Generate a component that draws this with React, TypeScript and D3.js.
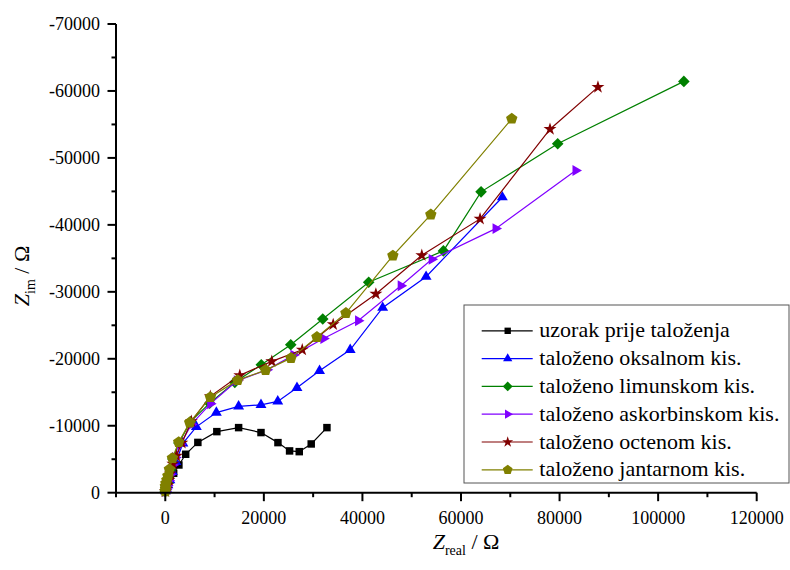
import React from "react";
import * as d3 from "d3";

const seriesNames = [
  "uzorak prije taloženja",
  "taloženo oksalnom kis.",
  "taloženo limunskom kis.",
  "taloženo askorbinskom kis.",
  "taloženo octenom kis.",
  "taloženo jantarnom kis.",
];
const seriesColors = ["#000000", "#0000FF", "#008000", "#8000FF", "#800000", "#808000"];
const seriesMarkers = ["square", "triangle", "diamond", "rightTriangle", "star", "pentagon"];

const uzorakX = [120, 430, 930, 1700, 2760, 4140, 6610, 10460, 14880, 19420, 22860, 25220, 27180, 29610, 32800];
const uzorakY = [-400, -1000, -1900, -2900, -4140, -5740, -7510, -9120, -9720, -8980, -7480, -6240, -6130, -7280, -9720];

const oksalnomX = [20, 220, 530, 930, 1440, 2150, 3570, 6300, 10360, 14880, 19420, 22820, 26720, 31300, 37520, 44110, 52920, 68390];
const oksalnomY = [-250, -630, -1150, -1900, -3100, -4590, -7360, -9830, -11970, -12890, -13120, -13640, -15660, -18200, -21340, -27630, -32260, -44130];

const limunskomX = [0, 20, 220, 430, 730, 1030, 1540, 2760, 5090, 9000, 14110, 19480, 25460, 31950, 41270, 56430, 64070, 79620, 105220];
const limunskomY = [-180, -480, -930, -1530, -2350, -3400, -5040, -7430, -10580, -13370, -16480, -19100, -22090, -25940, -31440, -36110, -44930, -52110, -61430];

const askorbinskomX = [20, 220, 430, 730, 1030, 1540, 2050, 3060, 5290, 9140, 14550, 20630, 26030, 32110, 39140, 47800, 54080, 67050, 83270];
const askorbinskomY = [-180, -550, -1080, -1820, -2720, -4140, -5260, -7210, -10200, -13270, -16710, -18350, -20550, -23030, -25680, -30920, -34850, -39440, -48120];

const octenomX = [20, 220, 430, 730, 1030, 1540, 2250, 3360, 5290, 9140, 15120, 21610, 27790, 34070, 42730, 52050, 63870, 78060, 87790];
const octenomY = [-180, -550, -1080, -1900, -2870, -4290, -5490, -7430, -10650, -14390, -17530, -19620, -21340, -25130, -29680, -35450, -40890, -54290, -60570];

const jantarnomX = [0, 50, 20, 120, 320, 530, 830, 1440, 2720, 4950, 9140, 14680, 20350, 25500, 30770, 36650, 46180, 53880, 70300];
const jantarnomY = [-180, -550, -930, -1380, -1900, -2500, -3500, -5150, -7540, -10470, -14270, -16810, -18310, -20100, -23240, -26830, -35400, -41540, -55850];

const seriesX = [uzorakX, oksalnomX, limunskomX, askorbinskomX, octenomX, jantarnomX];
const seriesY = [uzorakY, oksalnomY, limunskomY, askorbinskomY, octenomY, jantarnomY];

const xMajorTicks = [0, 20000, 40000, 60000, 80000, 100000, 120000];
const xMinorTicks = [-10000, 10000, 30000, 50000, 70000, 90000, 110000];
const yMajorTicks = [0, -10000, -20000, -30000, -40000, -50000, -60000, -70000];
const yMinorTicks = [-5000, -15000, -25000, -35000, -45000, -55000, -65000];

const W = 790;
const H = 570;
const FONT = "Liberation Serif, Times New Roman, DejaVu Serif, serif";

const x = d3.scaleLinear().domain([-10000, 120000]).range([116, 756.7]);
const y = d3.scaleLinear().domain([0, -70000]).range([492.7, 24]);

function polygonPath(n: number, r: number, rot: number) {
  const pts: [number, number][] = d3.range(n).map((i) => {
    const a = rot + (i * 2 * Math.PI) / n;
    return [r * Math.cos(a), r * Math.sin(a)];
  });
  return "M" + pts.map((p) => p[0].toFixed(2) + "," + p[1].toFixed(2)).join("L") + "Z";
}

function markerPath(kind: string): string {
  switch (kind) {
    case "square":
      return d3.symbol(d3.symbolSquare, 56)() as string;
    case "triangle":
      return polygonPath(3, 6.3, -Math.PI / 2);
    case "rightTriangle":
      return polygonPath(3, 6.3, 0);
    case "diamond":
      return polygonPath(4, 5.8, -Math.PI / 2);
    case "star":
      return d3.symbol(d3.symbolStar, 52)() as string;
    case "pentagon":
      return polygonPath(5, 6, -Math.PI / 2);
  }
  return "";
}

export default function App() {
  const line = d3
    .line<[number, number]>()
    .x((d) => x(d[0]))
    .y((d) => y(d[1]));

  const legendX = 464;
  const legendY = 305;
  const legendW = 325;
  const legendH = 178;
  const rowBase = 337.3;
  const rowStep = 27.8;

  return (
    <svg
      width={W}
      height={H}
      style={{ position: "absolute", left: 0, top: 0, background: "#fff", fontFamily: FONT }}
    >
      <rect x={0} y={0} width={W} height={H} fill="#fff" />
      {seriesX.map((xs, si) => {
        const pts: [number, number][] = xs.map((v, i) => [v, seriesY[si][i]]);
        const mp = markerPath(seriesMarkers[si]);
        return (
          <g key={si}>
            <path d={line(pts) as string} fill="none" stroke={seriesColors[si]} strokeWidth={1.2} />
            {pts.map((p, i) => (
              <path
                key={i}
                d={mp}
                transform={`translate(${x(p[0])},${y(p[1])})`}
                fill={seriesColors[si]}
              />
            ))}
          </g>
        );
      })}

      <line x1={116} x2={756.7} y1={y(0)} y2={y(0)} stroke="#000" strokeWidth={2} />
      <line x1={116} x2={116} y1={y(-70000)} y2={y(0) + 1} stroke="#000" strokeWidth={2} />
      {xMajorTicks.map((t) => (
        <g key={"xm" + t}>
          <line x1={x(t)} x2={x(t)} y1={y(0)} y2={y(0) + 8.5} stroke="#000" strokeWidth={2} />
          <text x={x(t)} y={523.5} textAnchor="middle" fontSize={18}>
            {t}
          </text>
        </g>
      ))}
      {xMinorTicks.map((t) => (
        <line key={"xn" + t} x1={x(t)} x2={x(t)} y1={y(0)} y2={y(0) + 4.5} stroke="#000" strokeWidth={2} />
      ))}
      {yMajorTicks.map((t) => (
        <g key={"ym" + t}>
          <line x1={107.5} x2={116} y1={y(t)} y2={y(t)} stroke="#000" strokeWidth={2} />
          <text x={100} y={y(t) + 6} textAnchor="end" fontSize={18}>
            {t}
          </text>
        </g>
      ))}
      {yMinorTicks.map((t) => (
        <line key={"yn" + t} x1={111.5} x2={116} y1={y(t)} y2={y(t)} stroke="#000" strokeWidth={2} />
      ))}

      <text x={466} y={549} textAnchor="middle" fontSize={22}>
        <tspan fontStyle="italic">Z</tspan>
        <tspan fontSize={14} dy={6}>real</tspan>
        <tspan dy={-6}> / Ω</tspan>
      </text>
      <text transform="translate(28.5,276) rotate(-90)" textAnchor="middle" fontSize={22}>
        <tspan fontStyle="italic">Z</tspan>
        <tspan fontSize={14} dy={6}>im</tspan>
        <tspan dy={-6}> / Ω</tspan>
      </text>

      <rect x={legendX} y={legendY} width={legendW} height={legendH} fill="#fff" stroke="#555" strokeWidth={1} />
      {seriesNames.map((name, i) => {
        const cy = rowBase + i * rowStep - 6.5;
        return (
          <g key={"lg" + i}>
            <line x1={481.7} x2={532.7} y1={cy} y2={cy} stroke={seriesColors[i]} strokeWidth={1.2} />
            <path d={markerPath(seriesMarkers[i])} transform={`translate(507.7,${cy}) scale(0.85)`} fill={seriesColors[i]} />
            <text x={539.3} y={rowBase + i * rowStep} fontSize={22}>
              {name}
            </text>
          </g>
        );
      })}
    </svg>
  );
}
